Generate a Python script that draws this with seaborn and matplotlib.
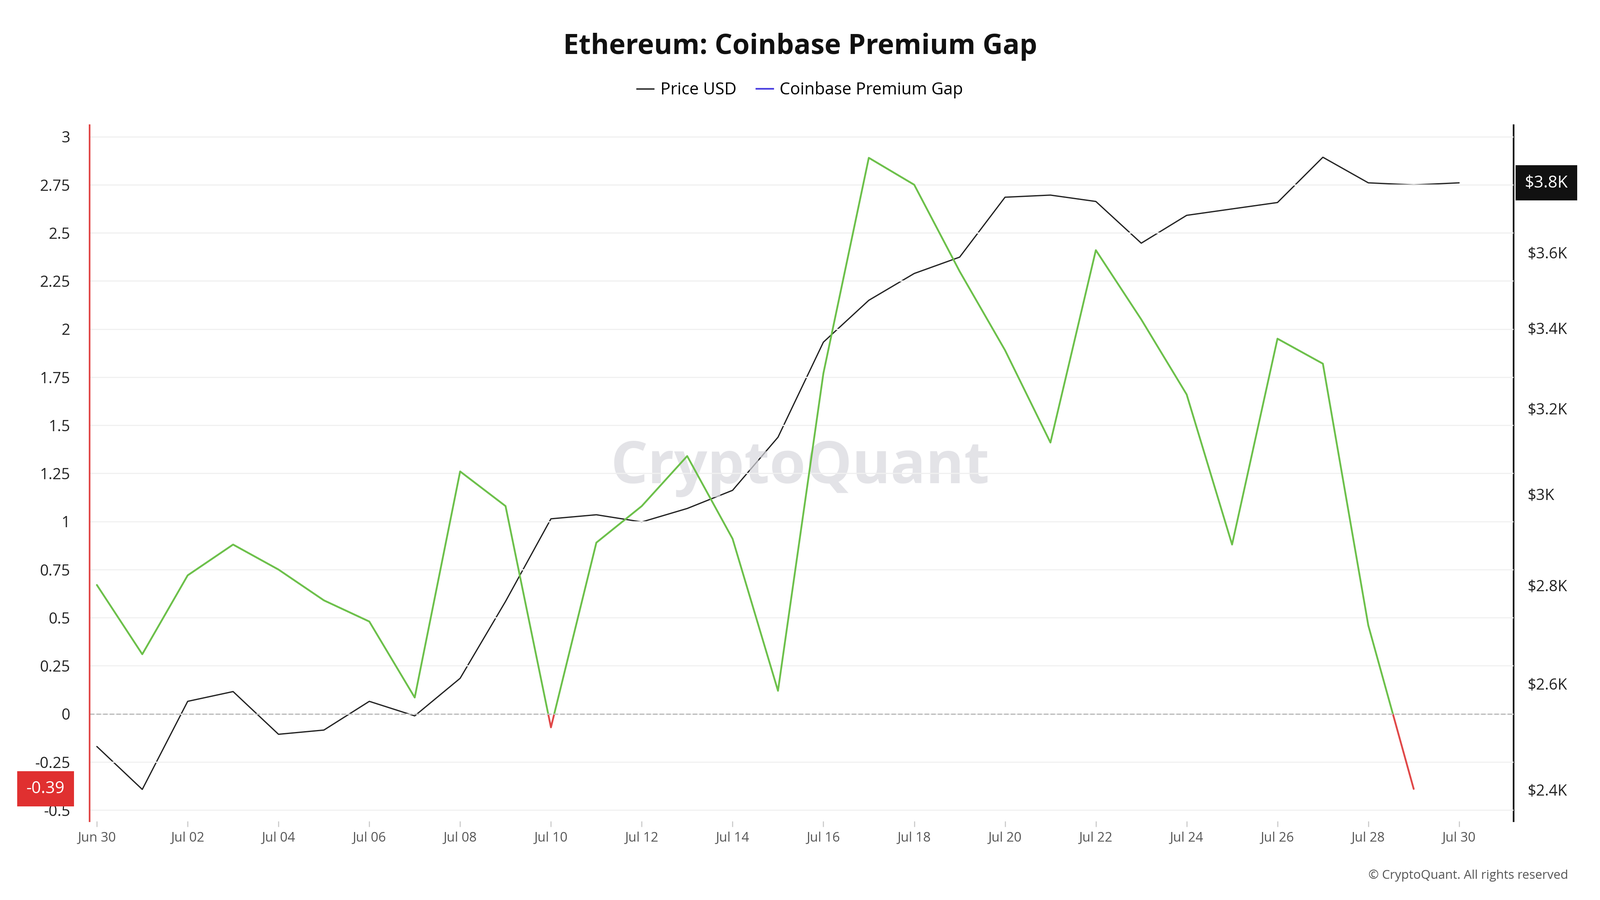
import matplotlib.pyplot as plt
import matplotlib.ticker as mticker
import numpy as np
import pandas as pd
import seaborn as sns
from matplotlib.patches import Rectangle

plt.rcParams["font.family"] = "Open Sans"

dates = pd.date_range("2024-06-30", "2024-07-30", freq="D")
price_usd = [2479, 2400, 2565, 2584, 2502, 2510, 2565, 2537, 2610, 2766,
             2944, 2953, 2937, 2967, 3008, 3131, 3364, 3472, 3543, 3587,
             3753, 3759, 3741, 3625, 3702, 3720, 3738, 3868, 3794, 3788, 3794]
premium_gap = [0.67, 0.31, 0.72, 0.88, 0.75, 0.59, 0.48, 0.085, 1.26, 1.08,
               -0.07, 0.89, 1.08, 1.34, 0.91, 0.12, 1.77, 2.89, 2.75, 2.30,
               1.89, 1.41, 2.41, 2.05, 1.66, 0.88, 1.95, 1.82, 0.46, -0.39, np.nan]
left_ticks = [-0.5, -0.25, 0, 0.25, 0.5, 0.75, 1, 1.25, 1.5, 1.75, 2, 2.25, 2.5, 2.75, 3]
right_ticks = [2400, 2600, 2800, 3000, 3200, 3400, 3600, 3800]

df = pd.DataFrame({"date": dates, "price": price_usd, "gap": premium_gap})
df["day"] = np.arange(len(df))

fig = plt.figure(figsize=(16, 9), dpi=250)
ax = fig.add_axes([0.056, 0.0875, 0.89, 0.7735])
ax2 = ax.twinx()

# premium gap: green above zero, red below
sns.lineplot(data=df, x="day", y="gap", ax=ax, color="#6cc04a", lw=1.3)
sns.lineplot(data=df, x="day", y="gap", ax=ax, color="#e04848", lw=1.3)
g_line, r_line = ax.lines[0], ax.lines[1]
g_line.set_clip_path(Rectangle((-5, 0), 50, 10, transform=ax.transData))
r_line.set_clip_path(Rectangle((-5, -10), 50, 10, transform=ax.transData))
ax.axhline(0, color="#bbbbbb", ls="--", lw=0.9)

sns.lineplot(data=df, x="day", y="price", ax=ax2, color="#222222", lw=0.9)
for ln in ax.lines + ax2.lines:
    ln.set_solid_joinstyle("round")
    ln.set_solid_capstyle("round")
ax2.set_yscale("log")
ax2.set_ylim(2343, 3963)
ax2.yaxis.set_major_locator(mticker.FixedLocator(right_ticks))
ax2.yaxis.set_minor_locator(mticker.NullLocator())
ax2.set_yticklabels([f"${v/1000:g}K" for v in right_ticks])
ax2.set_ylabel("")

ax.set_xlim(-0.16, 31.2)
ax.set_ylim(-0.558, 3.06)
ax.set_yticks(left_ticks)
ax.set_yticklabels([f"{v:g}" for v in left_ticks])
ax.set_xticks(df["day"][::2])
ax.set_xticklabels([d.strftime("%b %d") for d in df["date"][::2]])
ax.set_xlabel("")
ax.set_ylabel("")
ax.grid(axis="y", color="#f0f0f0", lw=0.8)
ax.grid(axis="x", visible=False)
ax.set_zorder(ax2.get_zorder() + 1)
ax.patch.set_visible(False)

for a in (ax, ax2):
    for s in ("top", "bottom"):
        a.spines[s].set_visible(False)
ax.spines["right"].set_visible(False)
ax2.spines["left"].set_visible(False)
ax.spines["left"].set_color("#e04848")
ax.spines["left"].set_linewidth(1.2)
ax2.spines["right"].set_color("#111111")
ax2.spines["right"].set_linewidth(1.2)
ax.tick_params(axis="y", length=0, labelsize=11, pad=14, colors="#222222")
ax.tick_params(axis="x", length=4, color="#cccccc", labelsize=9.5, colors="#555555")
ax2.tick_params(axis="y", length=0, labelsize=11, pad=10, colors="#222222")

# last-value badges
ax.text(-0.031, -0.39, "-0.39", transform=ax.get_yaxis_transform(), ha="center", va="center",
        fontsize=12, color="white",
        bbox=dict(boxstyle="square,pad=0.55", fc="#e03030", ec="none"))
ax2.text(1.023, 3794, "$3.8K", transform=ax2.get_yaxis_transform(), ha="center", va="center",
         fontsize=12, color="white",
         bbox=dict(boxstyle="square,pad=0.55", fc="#111111", ec="none"))

fig.text(0.5, 0.948, "Ethereum: Coinbase Premium Gap", ha="center", va="center",
         fontsize=20, fontweight="bold", color="#111111")
handles = [plt.Line2D([], [], color="#222222", lw=1),
           plt.Line2D([], [], color="#4a3fe0", lw=1.2)]
fig.legend(handles, ["Price USD", "Coinbase Premium Gap"], loc="center",
           bbox_to_anchor=(0.5, 0.9), ncol=2, frameon=False, fontsize=12,
           handlelength=1.0, columnspacing=1.2, handletextpad=0.4)
fig.text(0.5, 0.48, "CryptoQuant", ha="center", va="center", fontsize=42,
         color="#d8d8de", alpha=0.7, fontweight="bold", zorder=0)
fig.text(0.98, 0.027, "© CryptoQuant. All rights reserved", ha="right", va="center",
         fontsize=9, color="#555555")

fig.savefig("out.png", dpi=250, facecolor="white")
